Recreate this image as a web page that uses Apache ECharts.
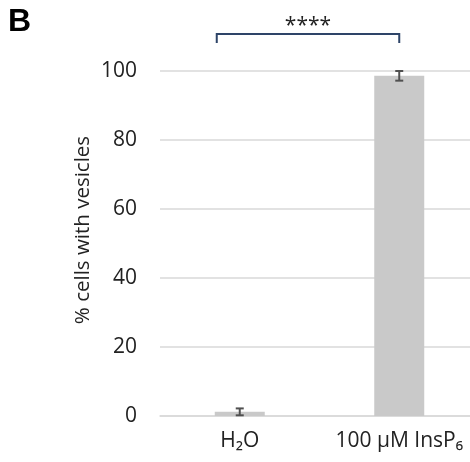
<!DOCTYPE html>
<html>
<head>
<meta charset="utf-8">
<script src="https://cdn.jsdelivr.net/npm/echarts@6/dist/echarts.min.js"></script>
<style>
  html, body { margin: 0; padding: 0; background: #fff; overflow: hidden; }
  #chart { width: 479px; height: 462px; }
</style>
</head>
<body>
<div id="chart"></div>
<script>
var categories = ['H\u2082O', '100 \u00b5M InsP\u2086'];
var values = [1.2, 98.6];
var errors = [1.0, 1.4];
var yTicks = [0, 20, 40, 60, 80, 100];

var chart = echarts.init(document.getElementById('chart'));
var font = '"Open Sans", "Noto Sans", sans-serif';

var errData = values.map(function (v, i) { return [i, v - errors[i], v + errors[i]]; });

var option = {
    animation: false,
    grid: { left: 160, right: 0, top: 71, bottom: 46 },
    xAxis: {
        type: 'category',
        data: categories,
        axisLine: { lineStyle: { color: '#d9d9d9', width: 1.5 } },
        axisTick: { show: false },
        axisLabel: { color: '#222', fontSize: 21, fontFamily: font, margin: 15, interval: 0, hideOverlap: false }
    },
    yAxis: {
        type: 'value',
        min: yTicks[0],
        max: yTicks[yTicks.length - 1],
        interval: 20,
        axisLine: { show: false },
        axisTick: { show: false },
        splitLine: { lineStyle: { color: '#d9d9d9', width: 1.5 } },
        axisLabel: { color: '#222', fontSize: 21, fontFamily: font, margin: 23 }
    },
    series: [
        {
            type: 'bar',
            data: values,
            barWidth: 50,
            itemStyle: { color: '#c9c9c9' }
        },
        {
            type: 'custom',
            data: errData,
            z: 5,
            renderItem: function (params, api) {
                var lo = api.coord([api.value(0), api.value(1)]);
                var hi = api.coord([api.value(0), api.value(2)]);
                var w = 4;
                var st = { stroke: '#505050', lineWidth: 2 };
                return {
                    type: 'group',
                    children: [
                        { type: 'line', shape: { x1: lo[0], y1: lo[1], x2: hi[0], y2: hi[1] }, style: st },
                        { type: 'line', shape: { x1: lo[0] - w, y1: lo[1], x2: lo[0] + w, y2: lo[1] }, style: st },
                        { type: 'line', shape: { x1: hi[0] - w, y1: hi[1], x2: hi[0] + w, y2: hi[1] }, style: st }
                    ]
                };
            }
        }
    ]
};
chart.setOption(option);

// significance bracket between the two bars
var p0 = chart.convertToPixel({ seriesIndex: 0 }, [0, 0]);
var p1 = chart.convertToPixel({ seriesIndex: 0 }, [1, 0]);
var x0 = p0[0] - 23, x1 = p1[0];
chart.setOption({
    graphic: [
        {
            type: 'text', left: 8, top: 6,
            style: { text: 'B', fontSize: 32, fontWeight: 'bold', fontFamily: '"Liberation Sans", Arial, sans-serif', fill: '#000' }
        },
        {
            type: 'text', x: 83, y: 230, rotation: Math.PI / 2,
            style: { text: '% cells with vesicles', fontSize: 20.5, fontFamily: font, fill: '#222', align: 'center', verticalAlign: 'middle' }
        },
        {
            type: 'polyline',
            shape: { points: [[x0, 43], [x0, 34], [x1, 34], [x1, 43]] },
            style: { stroke: '#2e4468', lineWidth: 2, fill: null }
        },
        {
            type: 'text', x: (x0 + x1) / 2, y: 26,
            style: { text: '****', fontSize: 21, fontFamily: font, fill: '#222', align: 'center', verticalAlign: 'middle' }
        }
    ]
});
</script>
</body>
</html>
